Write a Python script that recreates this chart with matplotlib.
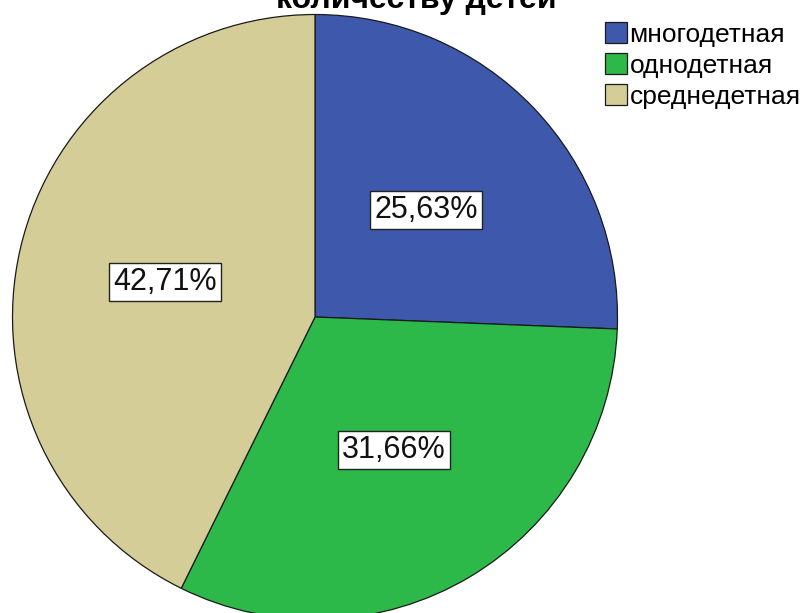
import matplotlib
matplotlib.use("Agg")
import matplotlib.pyplot as plt

plt.rcParams['font.family'] = ['Liberation Sans', 'DejaVu Sans']

categories = ["многодетная", "однодетная", "среднедетная"]
shares = [25.63, 31.66, 42.71]
colors = ["#3e58ac", "#2db84a", "#d4cd98"]
title = "количеству детей"

fig = plt.figure(figsize=(8.04, 6.13), dpi=100)
ax = fig.add_axes([11 / 804, -8 / 613, 608 / 804, 608 / 613])

wedges, texts, autotexts = ax.pie(
    shares, colors=colors, startangle=90, counterclock=False,
    autopct=lambda p: f"{p:.2f}%".replace(".", ","), pctdistance=0.51,
    wedgeprops=dict(edgecolor="#1a1a1a", linewidth=0.9),
    textprops=dict(fontsize=22, color="#111111"),
)
for t in autotexts:
    t.set_bbox(dict(facecolor="white", edgecolor="#222222", linewidth=1.0,
                    boxstyle="square,pad=0.13"))

ax.set_xlim(-1.005, 1.005)
ax.set_ylim(-1.005, 1.005)
ax.set_aspect("equal")
ax.axis("off")

fig.text(416 / 804, 1 - 8 / 613, title, ha="center", va="baseline",
         fontsize=23, fontweight="bold")

fig.legend(wedges, categories, loc="upper left", bbox_to_anchor=(605 / 804, 1 - 22 / 613),
           frameon=False, fontsize=19, handlelength=0.83, handleheight=0.83,
           handletextpad=0.1, labelspacing=0.25, borderpad=0, borderaxespad=0)

fig.savefig("out.png", dpi=100)
